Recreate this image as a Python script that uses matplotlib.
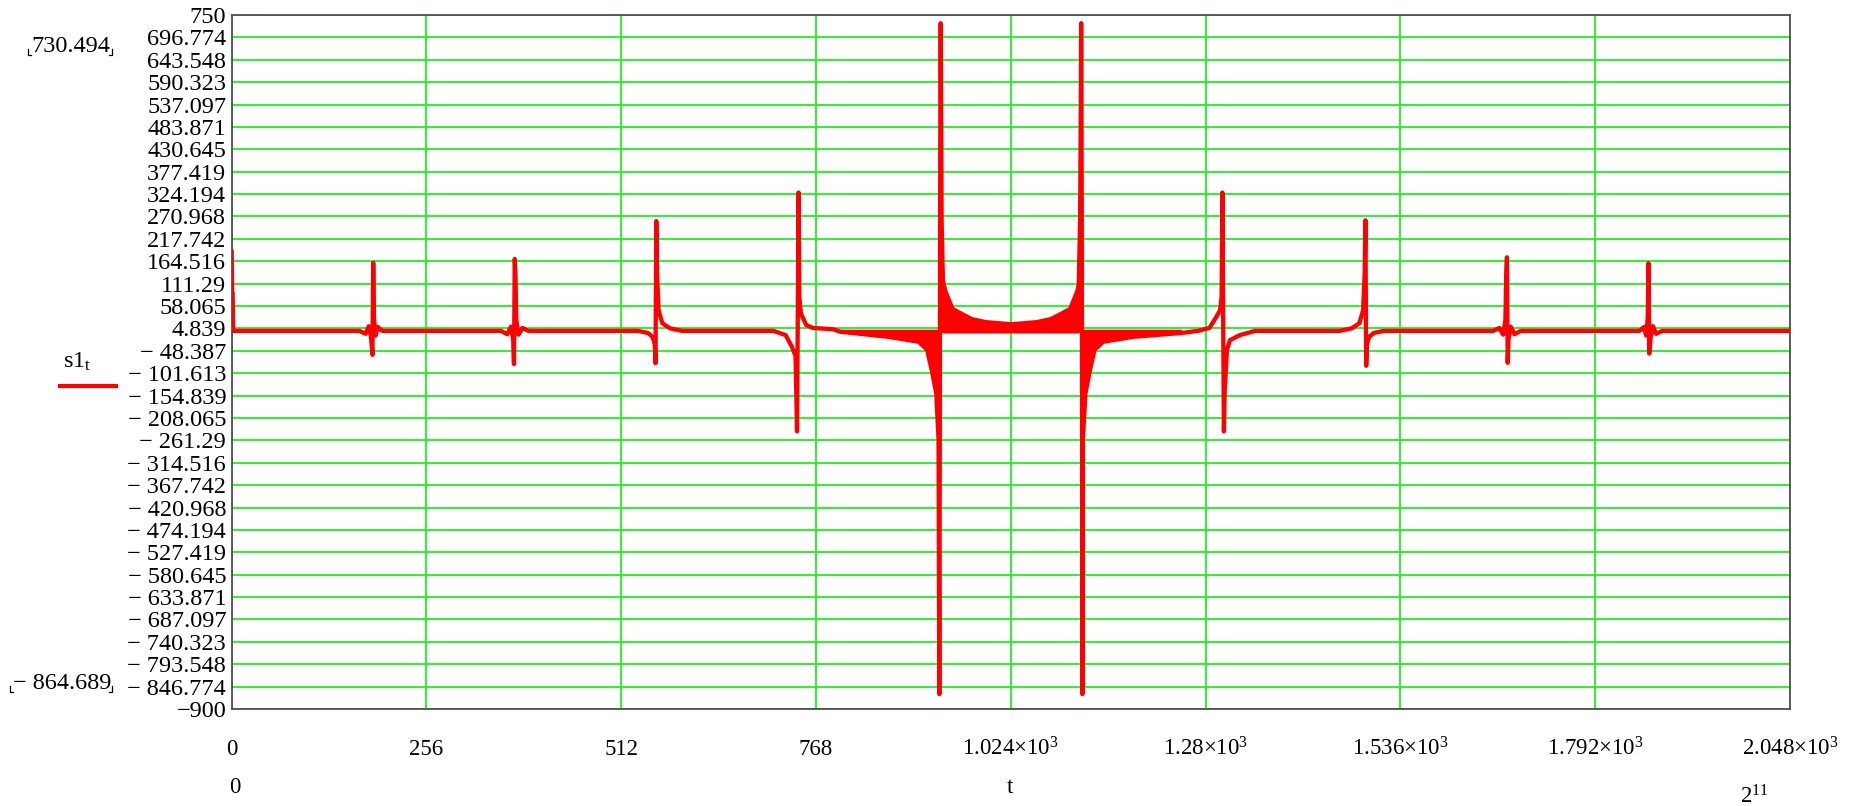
import numpy as np
import matplotlib.pyplot as plt
from matplotlib.lines import Line2D

plt.rcParams['font.family'] = ['Liberation Serif', 'DejaVu Sans']
plt.rcParams['mathtext.fontset'] = 'custom'
plt.rcParams['mathtext.rm'] = 'Liberation Serif'
plt.rcParams['mathtext.it'] = 'Liberation Serif:italic'

W, H = 1866, 806

# axes ranges and ticks
x_min, x_max = 0, 2048
y_min, y_max = -900, 750
xtick_vals = [0, 256, 512, 768, 1024, 1280, 1536, 1792, 2048]
xtick_labels = ['0', '256', '512', '768', '1.024×10$^{3}$', '1.28×10$^{3}$',
                '1.536×10$^{3}$', '1.792×10$^{3}$', '2.048×10$^{3}$']
ytick_labels = ['750', '696.774', '643.548', '590.323', '537.097', '483.871',
                '430.645', '377.419', '324.194', '270.968', '217.742', '164.516',
                '111.29', '58.065', '4.839', '− 48.387', '− 101.613', '− 154.839',
                '− 208.065', '− 261.29', '− 314.516', '− 367.742', '− 420.968',
                '− 474.194', '− 527.419', '− 580.645', '− 633.871', '− 687.097',
                '− 740.323', '− 793.548', '− 846.774', '−900']
s1_max = 730.494
s1_min = -864.689

# signal s1_t : vertices
trace_t = [0, 0.6, 1.2, 2,
           168, 176, 180, 183, 185, 186, 187, 189, 192, 198,
           354, 362, 367, 370, 371, 372, 373, 374, 377, 382, 390,
           534, 547, 553, 556, 557, 558, 559, 561, 566, 576, 592,
           712, 728, 736, 741, 742, 743, 745, 746, 748, 755, 764, 790, 800,
           863, 903, 914, 920, 926, 929, 930, 930.6, 931, 931.4, 931.8, 932.3, 933, 936,
           1112, 1115, 1116, 1116.4, 1116.8, 1117.2, 1117.6, 1118, 1118.6,
           1122, 1128, 1134, 1145, 1185, 1248,
           1270, 1285, 1293, 1299, 1301, 1302, 1304, 1305, 1308, 1312, 1325, 1345,
           1456, 1472, 1482, 1487, 1489, 1490, 1491, 1492, 1495, 1501, 1514,
           1658, 1666, 1671, 1674, 1675, 1676, 1677, 1678, 1681, 1686, 1694,
           1850, 1856, 1859, 1861, 1862, 1863, 1865, 1868, 1872, 1880, 2048]
trace_v = [187, 88, 88, -1,
           -1, -8, 10, -14, -58, 161, 30, -12, 8, -1,
           -1, -9, 9, -22, -80, 170, 128, 25, -10, 6, -1,
           -1, -6, -15, -32, -78, 260, 136, 48, 17, 5, -1,
           -1, -11, -38, -60, -146, -240, 328, 80, 41, 13, 6, 3, -3,
           -15, -27, -46, -94, -150, -260, s1_min, -260, 262, 548, s1_max, 548, 262, -2,
           -2, 262, 548, s1_max, 548, 262, -260, s1_min, -260,
           -150, -94, -46, -27, -15, -6,
           -1, 6, 29, 48, 80, 328, -240, -146, -46, -23, -11, -1,
           -1, 5, 17, 48, 136, 262, -84, -32, -15, -6, -1,
           -1, 6, -10, 25, 128, 174, -77, -22, 9, -9, -1,
           -1, 8, -12, 30, 160, -55, -14, 10, -8, -1, -1]

# dense oscillation band between the two central spikes
band_t = [931, 933, 935, 937, 940, 949, 957, 973, 991, 1024,
          1057, 1075, 1091, 1099, 1108, 1111, 1113, 1117]
band_hi = [262, 262, 165, 120, 96, 56, 48, 33, 26, 21,
           26, 33, 48, 56, 96, 120, 165, 262]
band_lo = -4

# negative tails next to the central spikes
tail5_t = [800, 863, 903, 914, 920, 926, 929, 930]
tail5_lo = [-6, -15, -27, -46, -94, -150, -260, -260]
tail6_t = [1118, 1119, 1122, 1128, 1134, 1145, 1185, 1248]
tail6_lo = [-260, -260, -150, -94, -46, -27, -15, -6]
tail_hi = 3


def fx(px):
    return px / W


def fy(py):
    return 1 - py / H


fig = plt.figure(figsize=(W / 100, H / 100), dpi=100)
ax = fig.add_axes([fx(231.7), fy(709), (1790 - 231.7) / W, (709 - 15) / H])

ax.fill_between(band_t, band_lo, band_hi, color='red', lw=0, zorder=3)
ax.fill_between(tail5_t, tail5_lo, tail_hi, color='red', lw=0, zorder=3)
ax.fill_between(tail6_t, tail6_lo, tail_hi, color='red', lw=0, zorder=3)
ax.plot(trace_t, trace_v, color='red', lw=3.1, zorder=4)

ax.set_xlim(x_min, x_max)
ax.set_ylim(y_min, y_max)
ax.set_xticks(xtick_vals)
ax.set_xticklabels([])
ax.set_yticks(np.linspace(y_min, y_max, len(ytick_labels)))
ax.set_yticklabels(ytick_labels[::-1], fontsize=17.5)
ax.tick_params(length=0, pad=4)
ax.grid(True, color='#1ef01e', lw=1.3)
ax.set_axisbelow(True)
for sp in ax.spines.values():
    sp.set_color('#505050')
    sp.set_linewidth(1.3)

# x tick labels, baseline aligned below the frame
label_y = -(755 - 709) / (709 - 15)
for xv, lab in zip(xtick_vals, xtick_labels):
    ax.text(xv, label_y, lab, fontsize=16.5, ha='center', va='baseline',
            transform=ax.get_xaxis_transform(), clip_on=False)

fig.text(fx(235), fy(793), '0', fontsize=16.5, ha='center', va='baseline')
fig.text(fx(1010), fy(793), 't', fontsize=16.5, ha='center', va='baseline')
fig.text(fx(1740), fy(803), '2$^{11}$', fontsize=16.5, ha='left', va='baseline')


# limits of the trace, with Mathcad's small corner marks
def corner_marks(x0, x1, ybot):
    fig.add_artist(Line2D([fx(x0), fx(x0), fx(x0 + 3)], [fy(ybot - 6), fy(ybot), fy(ybot)],
                          color='black', lw=0.9, transform=fig.transFigure))
    fig.add_artist(Line2D([fx(x1 - 3), fx(x1), fx(x1)], [fy(ybot), fy(ybot), fy(ybot - 6)],
                          color='black', lw=0.9, transform=fig.transFigure))


fig.text(fx(31), fy(52), f'{s1_max:.3f}', fontsize=17.5, ha='left', va='baseline')
corner_marks(27.5, 112, 55)
fig.text(fx(13), fy(689), f'− {abs(s1_min):.3f}', fontsize=17.5, ha='left', va='baseline')
corner_marks(9.5, 112, 692)

# legend
fig.text(fx(63), fy(368), 's1$_{\\mathrm{t}}$', fontsize=17.5, ha='left', va='baseline')
fig.add_artist(Line2D([fx(60), fx(116)], [fy(386), fy(386)],
                      color='red', lw=3, transform=fig.transFigure))

fig.savefig('out.png', dpi=100)
